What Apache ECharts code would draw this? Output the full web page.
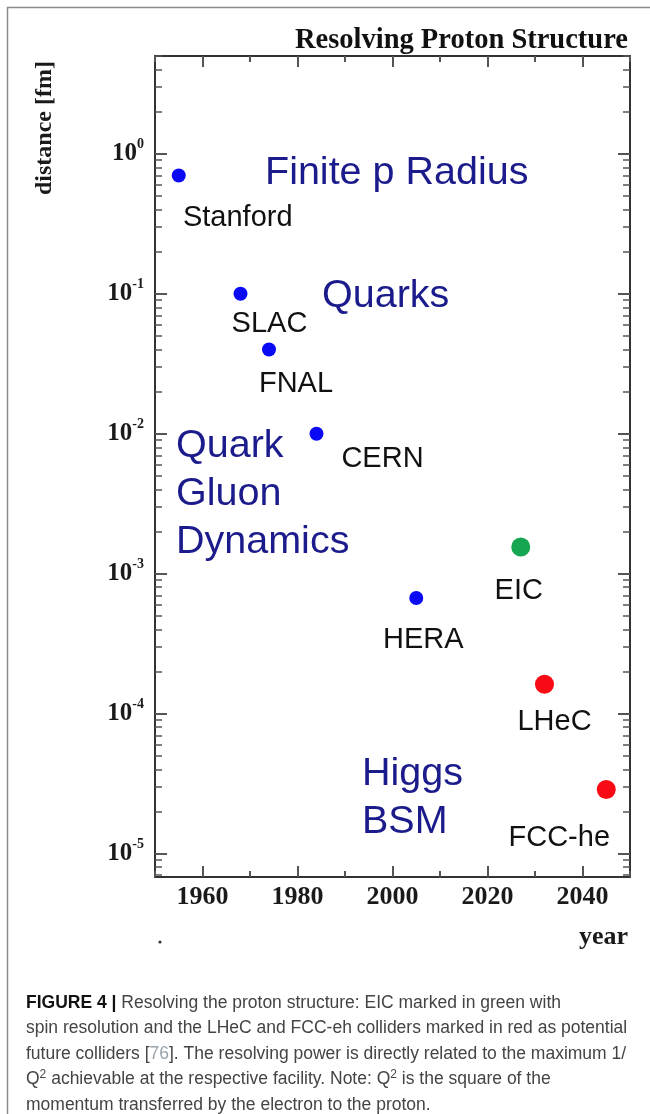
<!DOCTYPE html>
<html>
<head>
<meta charset="utf-8">
<script src="https://cdn.jsdelivr.net/npm/echarts@6/dist/echarts.min.js"></script>
<style>
html,body{margin:0;padding:0;background:#fff;}
#chart{width:650px;height:1114px;}
</style>
</head>
<body>
<div id="chart"></div>
<script>
// ---- data ----
const facilities = ['Stanford', 'SLAC', 'FNAL', 'CERN', 'HERA', 'EIC', 'LHeC', 'FCC-he'];
const years = [1955, 1968, 1974, 1984, 2005, 2027, 2032, 2045];
const distances = [0.7, 0.1, 0.04, 0.01, 6.7e-4, 1.55e-3, 1.62e-4, 2.87e-5];
const groups = ['past', 'past', 'past', 'past', 'past', 'eic', 'future', 'future'];
const xTickLabels = [1960, 1980, 2000, 2020, 2040];
const yTickLabels = [1e-5, 1e-4, 1e-3, 1e-2, 1e-1, 1];
const yMinorMultipliers = [2, 3, 4, 5, 6, 7, 8, 9];
const regionLabels = ['Finite p Radius', 'Quarks', 'Quark\nGluon\nDynamics', 'Higgs\nBSM'];
const titleText = 'Resolving Proton Structure';
const yName = 'distance [fm]';
const xName = 'year';
const captionLines = [
  '{b|FIGURE 4 |} Resolving the proton structure: EIC marked in green with',
  'spin resolution and the LHeC and FCC-eh colliders marked in red as potential',
  'future colliders [{g|76}]. The resolving power is directly related to the maximum 1/',
  'Q{sup|2} achievable at the respective facility. Note: Q{sup|2} is the square of the',
  'momentum transferred by the electron to the proton.'
];

// ---- styling ----
const yMin = 6.8e-6, yMax = 5;
const xMin = 1950, xMax = 2050;
const colorByGroup = {past: '#0a0af5', eic: '#16a550', future: '#fa0a14'};
const sizeByGroup = {past: 14, eic: 19, future: 19};
const labelOffsets = [[59, 43], [29, 30], [27, 35], [66, 25], [7, 42], [-2, 44], [10, 38], [-47, 49]];
const regionPos = [[265, 149], [322, 272], [176, 422], [362, 750]];
const navy = '#1b1b8c';
const serif = 'Liberation Serif';
const sans = 'Liberation Sans';
const axisColor = '#333';

const yMinorTicks = [];
for (let e = -6; e <= 0; e++) {
  yMinorMultipliers.forEach(k => {
    const v = +(k * Math.pow(10, e)).toPrecision(3);
    if (v >= yMin && v <= yMax) yMinorTicks.push(v);
  });
}

const chart = echarts.init(document.getElementById('chart'));

function xAxisDef(pos, major) {
  return {
    type: 'value', position: pos, min: xMin, max: xMax, interval: 10,
    axisLine: {show: !major, onZero: false, lineStyle: {color: axisColor, width: 2}},
    splitLine: {show: false},
    axisTick: major
      ? {show: true, inside: true, length: 11, customValues: xTickLabels, lineStyle: {color: '#555', width: 2}}
      : {show: true, inside: true, length: 6, lineStyle: {color: '#555', width: 2}},
    axisLabel: (pos === 'bottom' && !major) ? {
      show: true, customValues: xTickLabels, margin: 7,
      formatter: v => String(v),
      fontFamily: serif, fontWeight: 'bold', fontSize: 26, color: '#1a1a1a'
    } : {show: false}
  };
}

function yAxisDef(pos, major) {
  return {
    type: 'log', logBase: 10, position: pos, min: yMin, max: yMax,
    axisLine: {show: !major, onZero: false, lineStyle: {color: axisColor, width: 2}},
    splitLine: {show: false},
    minorTick: {show: false},
    axisTick: major
      ? {show: true, inside: true, length: 12, customValues: yTickLabels, lineStyle: {color: '#555', width: 2}}
      : {show: true, inside: true, length: 7, customValues: yMinorTicks, lineStyle: {color: '#555', width: 1.5}},
    axisLabel: (pos === 'left' && !major) ? {
      show: true, customValues: yTickLabels, margin: 11,
      formatter: v => '{b|10}{s|' + Math.round(Math.log10(v)) + '}',
      rich: {
        b: {fontFamily: serif, fontWeight: 'bold', fontSize: 25, lineHeight: 32, color: '#1a1a1a'},
        s: {fontFamily: serif, fontWeight: 'bold', fontSize: 14, lineHeight: 16, verticalAlign: 'top', color: '#1a1a1a'}
      }
    } : {show: false}
  };
}

const graphics = [
  {type: 'rect', shape: {x: 7.5, y: 7.5, width: 700, height: 1200}, style: {fill: 'none', stroke: '#8a8a8a', lineWidth: 1.5}, silent: true},
  {type: 'text', x: 45, y: 128, rotation: Math.PI / 2,
   style: {text: yName, font: 'bold 24px "' + serif + '"', fill: '#1a1a1a', align: 'center', verticalAlign: 'middle'}},
  {type: 'text', x: 628, y: 937,
   style: {text: xName, font: 'bold 26px "' + serif + '"', fill: '#1a1a1a', align: 'right', verticalAlign: 'middle'}},
  {type: 'circle', shape: {cx: 160, cy: 942, r: 1.6}, style: {fill: '#333'}}
];
regionLabels.forEach((t, i) => {
  graphics.push({type: 'text', x: regionPos[i][0], y: regionPos[i][1],
    style: {text: t, font: '39.5px "' + sans + '"', lineHeight: 48, fill: navy, align: 'left', verticalAlign: 'top'}});
});
captionLines.forEach((t, i) => {
  graphics.push({type: 'text', x: 26, y: 1003 + i * 25.5,
    style: {
      text: t, font: '17.5px "' + sans + '"', fill: '#444', lineHeight: 22,
      align: 'left', verticalAlign: 'middle',
      rich: {
        b: {fontFamily: sans, fontWeight: 'bold', fontSize: 17.5, lineHeight: 22, fill: '#111'},
        g: {fontFamily: sans, fontSize: 17.5, lineHeight: 22, fill: '#9aa3ad'},
        sup: {fontFamily: sans, fontSize: 12, lineHeight: 13, verticalAlign: 'top', fill: '#444'}
      }
    }});
});

chart.setOption({
  backgroundColor: '#fff',
  animation: false,
  title: {
    text: titleText, right: 22, top: 26, padding: 0,
    textStyle: {fontFamily: serif, fontWeight: 'bold', fontSize: 28.5, color: '#111'}
  },
  grid: {left: 155, right: 20, top: 56, bottom: 237, containLabel: false},
  xAxis: [xAxisDef('bottom', false), xAxisDef('bottom', true), xAxisDef('top', false), xAxisDef('top', true)],
  yAxis: [yAxisDef('left', false), yAxisDef('left', true), yAxisDef('right', false), yAxisDef('right', true)],
  series: [{
    type: 'scatter', xAxisIndex: 0, yAxisIndex: 0, symbol: 'circle',
    data: facilities.map((name, i) => ({
      name: name,
      value: [years[i], distances[i]],
      symbolSize: sizeByGroup[groups[i]],
      itemStyle: {color: colorByGroup[groups[i]], opacity: 1},
      label: {offset: labelOffsets[i]}
    })),
    itemStyle: {opacity: 1},
    label: {
      show: true, position: 'inside', formatter: '{b}',
      fontFamily: sans, fontSize: 29, color: '#111', opacity: 1,
      align: 'center', verticalAlign: 'middle', textBorderWidth: 0
    },
    emphasis: {disabled: true}
  }],
  graphic: graphics
});
</script>
</body>
</html>
